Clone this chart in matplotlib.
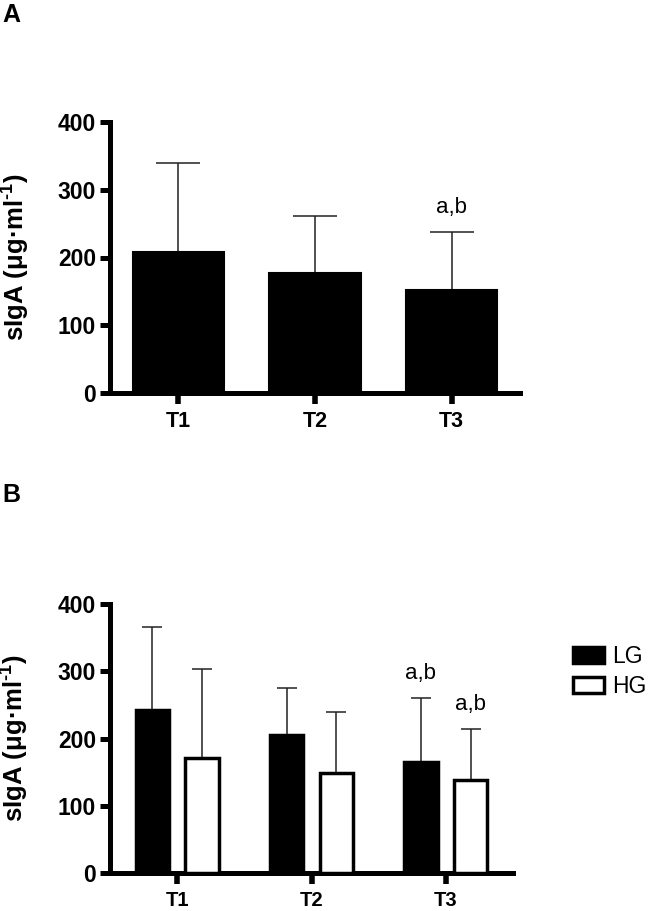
import matplotlib
matplotlib.use("Agg")
import matplotlib.pyplot as plt
from matplotlib.patches import Patch
import numpy as np

plt.rcParams['font.family'] = ['Liberation Sans', 'DejaVu Sans']
plt.rcParams['mathtext.fontset'] = 'custom'
plt.rcParams['mathtext.rm'] = 'Liberation Sans:bold'
plt.rcParams['mathtext.default'] = 'rm'

# ---- data ----
categories = ["T1", "T2", "T3"]
a_mean = [208, 177, 152]
a_sd = [131, 84, 85]
a_marks = ["", "", "a,b"]

groups = ["LG", "HG"]
lg_mean = [242, 205, 165]
lg_sd = [124, 70, 95]
hg_mean = [171, 149, 138]
hg_sd = [132, 90, 76]
lg_marks = ["", "", "a,b"]
hg_marks = ["", "", "a,b"]

yticks = [0, 100, 200, 300, 400]
ylabel = r"sIgA (μg·ml$^{\text{-1}}$)"

W, H = 652, 911
fig = plt.figure(figsize=(W / 100, H / 100), dpi=100)
axA = fig.add_axes([110 / W, 1 - 393 / H, 410 / W, 271 / H])
axB = fig.add_axes([110 / W, 1 - 873 / H, 403 / W, 269 / H])

spine_lw = 3.6


def style(ax, label_x, xsize):
    for s in ["top", "right"]:
        ax.spines[s].set_visible(False)
    for s in ["left", "bottom"]:
        ax.spines[s].set_linewidth(spine_lw)
        ax.spines[s].set_capstyle("projecting")
    ax.set_ylim(0, 400)
    ax.set_xlim(-0.5, 2.5)
    ax.set_yticks(yticks)
    ax.set_xticks(range(len(categories)))
    ax.set_xticklabels(categories)
    ax.tick_params(axis="y", direction="out", length=7, width=spine_lw, pad=3,
                   labelsize=16.5)
    ax.tick_params(axis="x", direction="out", length=8, width=4, pad=5,
                   labelsize=xsize)
    for lab in ax.get_xticklabels() + ax.get_yticklabels():
        lab.set_fontweight("bold")
    ax.set_ylabel(ylabel, fontsize=18.5, fontweight="bold")
    ax.yaxis.set_label_coords(label_x, 0.5)


# ---- Panel A ----
x = np.arange(len(categories))
axA.bar(x, a_mean, width=0.67, color="black", edgecolor="black", linewidth=1.5,
        zorder=3)
axA.errorbar(x, a_mean, yerr=[np.zeros(len(x)), a_sd], fmt="none",
             ecolor="#222222", elinewidth=1.1, capsize=16, capthick=1.1, zorder=2)
for xi, m, s, t in zip(x, a_mean, a_sd, a_marks):
    if t:
        axA.annotate(t, xy=(xi, m + s), xytext=(0, 14), textcoords="offset points",
                     ha="center", va="baseline", fontsize=16)
style(axA, -0.19, 15.5)

# ---- Panel B ----
off = 0.185
bw = 0.25
axB.bar(x - off, lg_mean, width=bw, color="black", edgecolor="black",
        linewidth=2.5, zorder=3, label=groups[0])
axB.bar(x + off, hg_mean, width=bw, color="white", edgecolor="black",
        linewidth=2.5, zorder=3, label=groups[1])
axB.errorbar(x - off, lg_mean, yerr=[np.zeros(len(x)), lg_sd], fmt="none",
             ecolor="#222222", elinewidth=1.1, capsize=7, capthick=1.1, zorder=2)
axB.errorbar(x + off, hg_mean, yerr=[np.zeros(len(x)), hg_sd], fmt="none",
             ecolor="#222222", elinewidth=1.1, capsize=7, capthick=1.1, zorder=2)
for xi, m, s, t in zip(x - off, lg_mean, lg_sd, lg_marks):
    if t:
        axB.annotate(t, xy=(xi, m + s), xytext=(0, 14), textcoords="offset points",
                     ha="center", va="baseline", fontsize=16)
for xi, m, s, t in zip(x + off, hg_mean, hg_sd, hg_marks):
    if t:
        axB.annotate(t, xy=(xi, m + s), xytext=(0, 14), textcoords="offset points",
                     ha="center", va="baseline", fontsize=16)
style(axB, -0.195, 14.5)

handles = [Patch(facecolor="black", edgecolor="black", linewidth=2.5),
           Patch(facecolor="white", edgecolor="black", linewidth=2.5)]
fig.legend(handles, groups, loc="upper left",
           bbox_to_anchor=(573 / W, 1 - 645 / H), frameon=False, fontsize=16.5,
           handlelength=1.35, handleheight=0.7, handletextpad=0.35,
           labelspacing=0.3, borderaxespad=0, borderpad=0)

fig.text(2 / W, 1 - 3 / H, "A", fontsize=18, fontweight="bold", va="top", ha="left")
fig.text(2 / W, 1 - 483 / H, "B", fontsize=18, fontweight="bold", va="top", ha="left")

fig.savefig("out.png", dpi=100)
